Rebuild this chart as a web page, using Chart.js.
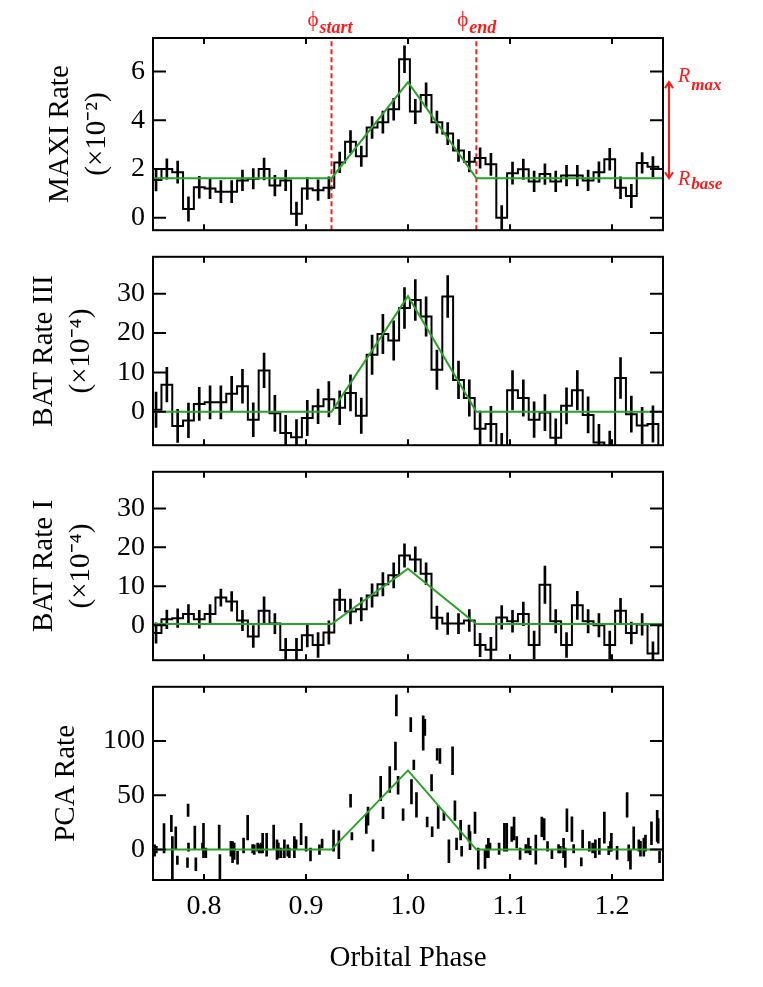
<!DOCTYPE html>
<html>
<head>
<meta charset="utf-8">
<script src="https://cdn.jsdelivr.net/npm/chart.js@4.4.1/dist/chart.umd.min.js"></script>
<style>
  html, body { margin: 0; padding: 0; background: #fff; }
  body { width: 763px; height: 987px; position: relative; overflow: hidden; }
  canvas { position: absolute; left: 0; }
</style>
</head>
<body>
<canvas id="maxi" width="763" height="255" style="top:0px"></canvas>
<canvas id="bat3" width="763" height="238" style="top:232px"></canvas>
<canvas id="bat1" width="763" height="238" style="top:447px"></canvas>
<canvas id="pca" width="763" height="325" style="top:662px"></canvas>
<script>
// phase binning of the MAXI / BAT light curves
const binStart = 0.7477;
const binWidth = 0.01059;
const xTicks = [0.8, 0.9, 1.0, 1.1, 1.2];
const phiStart = 0.925;
const phiEnd = 1.067;
const modelPhase = [0.75, phiStart, 1.0, phiEnd, 1.25];

const maxiTicks = [0, 2, 4, 6];
const maxiRange = [-0.51, 7.37];
const maxiRate = [1.55, 2.0, 1.87, 0.36, 1.25, 1.2, 1.07, 1.07, 1.53, 1.6, 2.0, 1.32, 1.53, 0.16, 1.2, 1.13,
  1.23, 2.27, 3.12, 2.52, 3.7, 3.92, 4.45, 6.5, 4.36, 5.03, 3.92, 3.45, 2.76, 2.3, 2.45, 2.19,
  0.0, 1.83, 1.99, 1.49, 1.79, 1.49, 1.73, 1.73, 1.53, 1.87, 2.4, 1.23, 0.89, 2.25, 2.09, 2.0];
const maxiErr = [0.45, 0.42, 0.45, 0.5, 0.45, 0.42, 0.45, 0.45, 0.42, 0.42, 0.45, 0.42, 0.42, 0.48, 0.45, 0.42,
  0.45, 0.42, 0.45, 0.42, 0.45, 0.45, 0.45, 0.55, 0.5, 0.5, 0.45, 0.45, 0.45, 0.42, 0.42, 0.45,
  0.5, 0.45, 0.42, 0.42, 0.42, 0.42, 0.42, 0.42, 0.42, 0.42, 0.45, 0.45, 0.48, 0.42, 0.42, 0.45];
const maxiModel = [1.62, 1.62, 5.56, 1.62, 1.62];

const batTicks = [0, 10, 20, 30];
const bat3Range = [-8.5, 39.4];
const bat3Rate = [0.5, 6.9, -3.6, -2.2, 2.0, 2.4, 2.4, 4.6, 6.5, -2.0, 10.5, -0.4, -5.4, -6.5, -1.6, 1.4,
  3.2, 1.0, 4.8, -1.0, 14.5, 19.8, 18.1, 26.4, 28.4, 24.2, 10.7, 29.3, 8.1, 3.5, -4.3, -3.1,
  -10.0, 5.5, 3.5, -2.0, -0.2, -6.6, 1.5, 5.5, -0.8, -7.8, -9.5, 8.6, -0.6, -3.5, -3.1, -9.5];
const bat3Err = [4.5, 4.4, 4.2, 4.4, 4.2, 4.2, 4.2, 4.4, 4.3, 4.3, 4.4, 4.6, 4.5, 4.5, 4.5, 4.4,
  4.5, 4.3, 4.6, 4.5, 5.0, 5.0, 5.0, 5.2, 5.2, 5.0, 5.0, 5.3, 4.8, 4.6, 4.5, 4.5,
  4.5, 5.0, 4.6, 4.5, 4.6, 4.8, 4.6, 5.0, 4.6, 4.6, 4.6, 5.2, 4.6, 4.6, 4.6, 4.6];
const bat3Model = [0, 0, 29.4, 0, 0];

const bat1Range = [-9.0, 39.4];
const bat1Rate = [-2.0, 1.5, 1.8, 2.9, 1.5, 2.9, 7.1, 6.1, 1.2, -2.9, 3.7, 0.4, -6.4, -6.4, -2.6, -5.1,
  -1.9, 6.5, 3.5, 4.1, 7.6, 10.5, 12.8, 17.9, 16.9, 13.2, 1.9, 0.4, 0.4, 1.2, -5.1, -6.3,
  2.0, 1.0, 2.9, -5.1, 10.4, 1.0, -5.1, 5.1, 1.0, 0.0, -5.1, 3.7, -2.0, 0.2, -7.3, 0.0];
const bat1Err = [2.6, 2.4, 2.4, 2.4, 2.3, 2.4, 2.2, 2.5, 2.6, 2.8, 3.6, 2.6, 3.0, 3.0, 3.0, 3.2,
  3.0, 2.8, 3.2, 3.0, 3.0, 3.0, 3.2, 3.0, 3.2, 2.8, 3.0, 2.8, 2.6, 2.8, 3.0, 3.2,
  3.0, 2.8, 3.0, 3.6, 4.8, 3.0, 3.2, 3.6, 3.0, 3.0, 3.6, 3.2, 2.8, 2.8, 3.0, 3.0];
const bat1Model = [0.3, 0.3, 14.5, 0.3, 0.3];

const pcaTicks = [0, 50, 100];
const pcaRange = [-28, 150];
const pcaPhase = [0.7516, 0.7533, 0.7608, 0.7680, 0.7690, 0.7723, 0.7739, 0.7844, 0.7848, 0.7838, 0.7910, 0.7920, 0.7985,
  0.7995, 0.8018, 0.8149, 0.8156, 0.8264, 0.8280, 0.8296, 0.8329, 0.8388, 0.8428, 0.8477, 0.8493, 0.8526,
  0.8542, 0.8559, 0.8575, 0.8614, 0.8683, 0.8716, 0.8729, 0.8755, 0.8788, 0.8821, 0.8837, 0.8886, 0.8903,
  0.8952, 0.9001, 0.9044, 0.9132, 0.9158, 0.9270, 0.9322, 0.9437, 0.9450, 0.9591, 0.9608, 0.9657, 0.9732,
  0.9755, 0.9821, 0.9877, 0.9886, 0.9903, 0.9952, 1.0027, 1.0034, 1.0057, 1.0083, 1.0149, 1.0165, 1.0188,
  1.0231, 1.0237, 1.0286, 1.0313, 1.0296, 1.0352, 1.0401, 1.0437, 1.0460, 1.0476, 1.0516, 1.0526, 1.0598,
  1.0608, 1.0657, 1.0689, 1.0755, 1.0771, 1.0788, 1.0804, 1.0893, 1.0945, 1.0968, 1.1017, 1.1040, 1.1066,
  1.1099, 1.1155, 1.1181, 1.1198, 1.1253, 1.1312, 1.1335, 1.1368, 1.1411, 1.1476, 1.1493, 1.1525, 1.1542,
  1.1558, 1.1607, 1.1624, 1.1699, 1.1712, 1.1778, 1.1810, 1.1837, 1.1876, 1.1925, 1.1968, 1.1984, 1.1994,
  1.2050, 1.2148, 1.2164, 1.2181, 1.2213, 1.2263, 1.2279, 1.2312, 1.2328, 1.2387, 1.2443, 1.2453, 1.2466];
const pcaRate = [-0.8, 0, 10.5, 24, -7.5, 10.5, -9.8, 36.3, 2.3, -12, 10.8, -13.5, 3,
  8.3, -3, 11.3, -15.8, 0.8, -2.3, -1.5, -7.5, 3.8, 20.3, 0.8, 0, 2.3,
  0.8, 1.5, 6, 4.5, 11.3, 0, -0.8, -3, 0.8, -0.8, -3, 2.3, 4.5,
  14.3, 5.3, -4.5, 0, 5.6, 8.3, 4.5, 45, 12.3, 24, 30.8, 3.8, 56.3,
  33.8, 64.6, 86.3, 132.9, 59.3, 32.3, 115.2, 53.3, 78.1, 41.3, 107.4, 112.6, 25.5,
  61.6, 16.5, 87.8, 86.3, 30, 30.8, -1.5, 81.8, 36, 5.3, 18, -1.5, 15,
  8.3, 24.8, -8.3, -8.7, -1.5, 1.5, 3, 0.8, 11.3, 11.3, 14.3, 19.5, 6.8,
  -3.8, 0.8, 3.8, -0.8, 0, 21, 18.8, 3, -4.2, 0.8, 0, 1.5, -7.5,
  27, 18.8, 0.8, -11.3, 9.8, 3, 1.5, 0.8, 3, 20.3, -0.8, 3, 6.8,
  -3, 41.3, -3, -9, 10.5, 3.8, 0.8, 2.3, 6, 15, 21.8, 17.3, -6.8];
const pcaErr = [5.3, 3, 13.5, 7.5, 19.5, 10.5, 3.8, 5.7, 3.8, 4.5, 10.8, 6, 3,
  15.8, 4.5, 11.3, 11.3, 6.8, 9.8, 7.5, 6, 6.8, 11.3, 3.8, 4.5, 3.8,
  3.8, 4.5, 9, 10.5, 11.3, 9, 6.8, 4.5, 8.3, 5.3, 4.5, 9.8, 4.5,
  9.8, 6.8, 6, 4.5, 4, 9.8, 12.9, 6, 3.3, 9, 8.3, 5.3, 11.3,
  5.3, 12, 12.8, 9.8, 8.3, 5.3, 6.5, 11.3, 4.5, 11.3, 15.8, 7.5, 4.5,
  7.5, 4.5, 5.3, 6.8, 10.5, 3.8, 10.5, 12.8, 9, 5.3, 9, 4.5, 7.5,
  8.3, 9.8, 9.8, 8.7, 6, 9, 3, 5.3, 12.8, 12.8, 6.8, 10.5, 5.3,
  5.3, 3.8, 6.8, 3.8, 13.5, 9, 9.8, 4.5, 4.2, 3.8, 3, 9, 9,
  10.5, 11.3, 3.8, 3.8, 8.3, 4.5, 4.5, 8.3, 7.5, 14.3, 3.8, 4.5, 8.3,
  6, 11.3, 7.5, 9, 10.5, 5.3, 6.8, 8.3, 7.5, 10.5, 14.3, 11.3, 5.3];
const pcaModel = [0, 0, 73, 0, 0];

const green = '#2aa22a';
const red = '#ff1a1a';
const serif = 'Liberation Serif';
Chart.defaults.font.family = serif;
Chart.defaults.color = '#000';

// histogram outline: one point at each bin's left edge, plus the closing edge
function histPoints(vals) {
  const pts = vals.map((v, i) => ({x: binStart + i * binWidth, y: v}));
  pts.push({x: binStart + vals.length * binWidth, y: vals[vals.length - 1]});
  return pts;
}
function binBars(vals, errs) {
  return vals.map((v, i) => ({x: binStart + (i + 0.5) * binWidth, y: [v - errs[i], v + errs[i]]}));
}
function modelPoints(vals) {
  return modelPhase.map((p, i) => ({x: p, y: vals[i]}));
}

// box with inward ticks on all four sides, IDL style
const frame = {
  id: 'frame',
  afterDatasetsDraw(chart, args, opts) {
    const {ctx, chartArea: a, scales: {x, y}} = chart;
    ctx.save();
    ctx.strokeStyle = '#000';
    ctx.lineWidth = 2;
    ctx.strokeRect(a.left, a.top, a.right - a.left, a.bottom - a.top);
    ctx.beginPath();
    xTicks.forEach(v => {
      const px = x.getPixelForValue(v);
      ctx.moveTo(px, a.bottom); ctx.lineTo(px, a.bottom - 6);
      ctx.moveTo(px, a.top); ctx.lineTo(px, a.top + 6);
    });
    opts.yTicks.forEach(v => {
      const py = y.getPixelForValue(v);
      ctx.moveTo(a.left, py); ctx.lineTo(a.left + 13, py);
      ctx.moveTo(a.right, py); ctx.lineTo(a.right - 13, py);
    });
    ctx.stroke();
    ctx.restore();
  }
};

function subLabel(ctx, main, sub, x, yMain, ySub, mainFont, subFont, centered) {
  ctx.font = mainFont;
  const w1 = ctx.measureText(main).width;
  ctx.font = subFont;
  const w2 = ctx.measureText(sub).width;
  const x0 = centered ? x - (w1 + w2) / 2 : x;
  ctx.font = mainFont;
  ctx.fillText(main, x0, yMain);
  ctx.font = subFont;
  ctx.fillText(sub, x0 + w1 + 1, ySub);
}

// phase markers and the R_max / R_base arrow of the MAXI panel
const maxiMarks = {
  id: 'maxiMarks',
  afterDraw(chart) {
    const {ctx, chartArea: a, scales: {x, y}} = chart;
    ctx.save();
    ctx.fillStyle = red;
    ctx.strokeStyle = red;
    ctx.textBaseline = 'alphabetic';
    ctx.textAlign = 'left';
    subLabel(ctx, 'ϕ', 'start', x.getPixelForValue(phiStart) - 2, 26, 33,
      '21px ' + serif, 'italic bold 18px ' + serif, true);
    subLabel(ctx, 'ϕ', 'end', x.getPixelForValue(phiEnd), 26, 33,
      '21px ' + serif, 'italic bold 18px ' + serif, true);
    const ax = a.right + 6;
    const yTop = y.getPixelForValue(maxiModel[2]);
    const yBot = y.getPixelForValue(maxiModel[0]);
    ctx.lineWidth = 2;
    ctx.beginPath();
    ctx.moveTo(ax, yTop); ctx.lineTo(ax, yBot);
    ctx.moveTo(ax - 4, yTop + 6); ctx.lineTo(ax, yTop); ctx.lineTo(ax + 4, yTop + 6);
    ctx.moveTo(ax - 4, yBot - 6); ctx.lineTo(ax, yBot); ctx.lineTo(ax + 4, yBot - 6);
    ctx.stroke();
    subLabel(ctx, 'R', 'max', a.right + 15, yTop, yTop + 8,
      'italic 20px ' + serif, 'italic bold 17px ' + serif, false);
    subLabel(ctx, 'R', 'base', a.right + 15, yBot + 7, yBot + 11,
      'italic 20px ' + serif, 'italic bold 17px ' + serif, false);
    ctx.restore();
  }
};

function panelChart(id, p) {
  const ds = [
    {type: 'line', data: modelPoints(p.model), borderColor: green, borderWidth: 2,
      pointRadius: 0, order: 0, clip: 0},
    {type: 'bar', data: p.bars, backgroundColor: '#000', barThickness: 2,
      grouped: false, order: 2, clip: 0}
  ];
  if (p.hist) {
    ds.push({type: 'line', data: histPoints(p.hist), stepped: true, borderColor: '#000',
      borderWidth: 2, pointRadius: 0, order: 1, clip: 0});
  }
  (p.extra || []).forEach(d => ds.push(d));

  const xAxis = {
    type: 'linear', min: 0.75, max: 1.25, offset: false, display: p.showX,
    afterBuildTicks: s => { s.ticks = xTicks.map(v => ({value: v})); },
    grid: {display: false, drawTicks: false},
    border: {display: false},
    ticks: {padding: 10, font: {size: 28}, color: '#000', callback: v => v.toFixed(1)},
    title: {display: true, text: 'Orbital Phase', font: {size: 29}, color: '#000',
      padding: {top: 0, bottom: 11}}
  };
  if (p.showX) xAxis.afterFit = s => { s.height = 107; };

  new Chart(document.getElementById(id), {
    type: 'line',
    data: {datasets: ds},
    options: {
      responsive: false,
      animation: false,
      events: [],
      layout: {padding: {left: 0, right: 100, top: p.padTop, bottom: p.padBottom}},
      plugins: {legend: {display: false}, tooltip: {enabled: false}, frame: {yTicks: p.yTicks}},
      scales: {
        x: xAxis,
        y: {
          type: 'linear', min: p.range[0], max: p.range[1],
          afterBuildTicks: s => { s.ticks = p.yTicks.map(v => ({value: v})); },
          afterFit: s => { s.width = 153; },
          grid: {display: false, drawTicks: false},
          border: {display: false},
          ticks: {padding: 8, font: {size: 28}, color: '#000'},
          title: {display: true, text: p.title, font: {size: 29, lineHeight: 1.28}, color: '#000',
            padding: {top: p.titlePad, bottom: 0}}
        }
      }
    },
    plugins: [frame].concat(p.plugins || [])
  });
}

panelChart('maxi', {
  range: maxiRange, yTicks: maxiTicks, title: ['MAXI Rate', '(×10⁻²)'], titlePad: 42,
  hist: maxiRate, bars: binBars(maxiRate, maxiErr), model: maxiModel,
  padTop: 38, padBottom: 20, showX: false, plugins: [maxiMarks],
  extra: [phiStart, phiEnd].map(p => ({
    type: 'line', data: [{x: p, y: maxiRange[0]}, {x: p, y: maxiRange[1]}],
    borderColor: red, borderWidth: 2, borderDash: [5, 3], pointRadius: 0, order: 3, clip: 0
  }))
});

panelChart('bat3', {
  range: bat3Range, yTicks: batTicks, title: ['BAT Rate III', '(×10⁻⁴)'], titlePad: 26,
  hist: bat3Rate, bars: binBars(bat3Rate, bat3Err), model: bat3Model,
  padTop: 20, padBottom: 20, showX: false
});

panelChart('bat1', {
  range: bat1Range, yTicks: batTicks, title: ['BAT Rate I', '(×10⁻⁴)'], titlePad: 26,
  hist: bat1Rate, bars: binBars(bat1Rate, bat1Err), model: bat1Model,
  padTop: 20, padBottom: 20, showX: false
});

panelChart('pca', {
  range: pcaRange, yTicks: pcaTicks, title: 'PCA Rate', titlePad: 48,
  bars: pcaPhase.map((p, i) => ({x: p, y: [pcaRate[i] - pcaErr[i], pcaRate[i] + pcaErr[i]]})),
  model: pcaModel,
  padTop: 20, padBottom: 0, showX: true
});
</script>
</body>
</html>
